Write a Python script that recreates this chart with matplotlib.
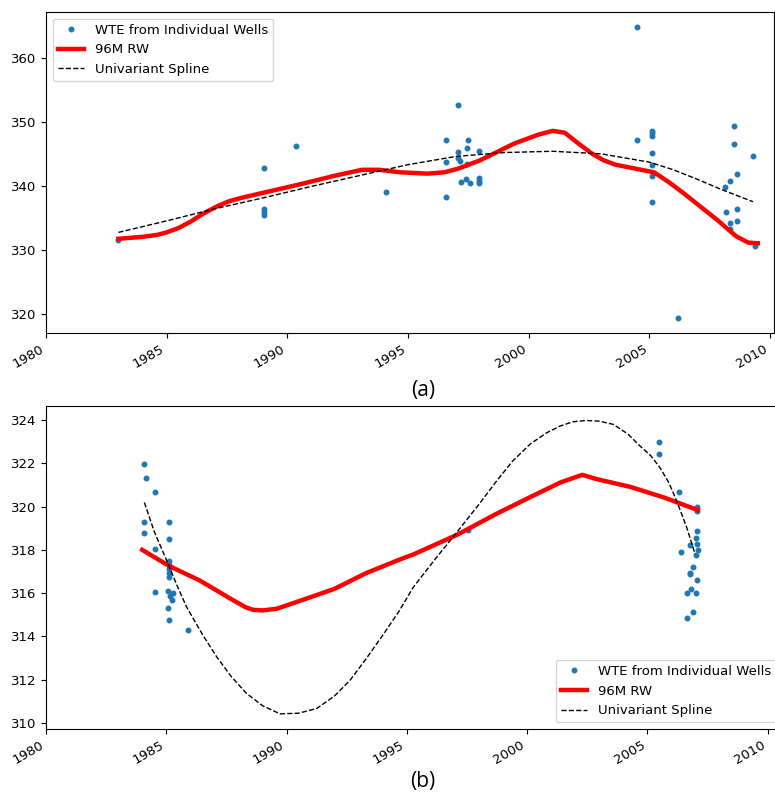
import matplotlib
matplotlib.use("Agg")
import matplotlib.pyplot as plt
from matplotlib.ticker import MultipleLocator, FormatStrFormatter

# ---------------- Panel (a) data ----------------
a_well_year = [1983.0, 1989.04, 1989.04, 1989.04, 1989.04, 1990.35, 1994.1,
               1996.56, 1996.56, 1996.56, 1997.08, 1997.08, 1997.08, 1997.15,
               1997.19, 1997.4, 1997.45, 1997.45, 1997.5, 1997.57,
               1997.95, 1997.95, 1997.95, 1997.95,
               2004.49, 2004.49,
               2005.1, 2005.1, 2005.1, 2005.1, 2005.1, 2005.1, 2005.1,
               2006.2, 2008.14, 2008.18, 2008.35, 2008.35, 2008.35,
               2008.5, 2008.5, 2008.62, 2008.62, 2008.62, 2009.28, 2009.38]
a_well_wte = [331.5, 342.8, 336.4, 335.9, 335.5, 346.3, 339.1,
              347.1, 343.7, 338.3, 352.7, 345.3, 344.3, 343.9,
              340.6, 341.0, 345.9, 343.4, 347.1, 340.4,
              345.5, 341.2, 340.8, 340.5,
              364.8, 347.2,
              348.5, 348.2, 347.8, 345.1, 343.3, 341.6, 337.4,
              319.3, 339.8, 335.9, 340.8, 334.1, 333.2,
              349.3, 346.6, 341.9, 336.3, 334.5, 344.7, 330.5]

a_rw_year = [1983.0, 1984.0, 1984.6, 1985.0, 1985.5, 1986.0, 1986.5, 1987.1,
             1987.6, 1988.2, 1989.0, 1990.5, 1992.0, 1993.1, 1993.8, 1994.7,
             1995.8, 1996.5, 1997.1, 1998.0, 1999.4, 2000.4, 2001.0, 2001.5,
             2002.0, 2002.6, 2003.1, 2003.6, 2004.4, 2005.2, 2005.8, 2006.4,
             2007.8, 2008.6, 2009.1, 2009.5]
a_rw_wte = [331.7, 332.0, 332.3, 332.7, 333.4, 334.4, 335.6, 336.8,
            337.6, 338.2, 338.9, 340.2, 341.6, 342.5, 342.5, 342.1,
            341.9, 342.1, 342.7, 344.0, 346.6, 348.0, 348.6, 348.3,
            346.8, 345.1, 344.0, 343.3, 342.7, 342.1, 340.6, 338.9,
            334.7, 332.1, 331.1, 331.0]

a_sp_year = [1983.0, 1985.0, 1987.0, 1989.0, 1991.0, 1993.0, 1995.0, 1997.0,
             1999.0, 2001.0, 2003.0, 2005.0, 2006.0, 2007.0, 2008.0, 2009.3]
a_sp_wte = [332.7, 334.5, 336.4, 338.1, 339.9, 341.6, 343.3, 344.6,
            345.2, 345.4, 345.0, 343.7, 342.5, 341.0, 339.4, 337.5]

# ---------------- Panel (b) data ----------------
b_well_year = [1984.07, 1984.07, 1984.07, 1984.14, 1984.52, 1984.52, 1984.52,
               1985.13, 1985.13, 1985.13, 1985.13, 1985.13, 1985.13, 1985.13,
               1985.13, 1985.09, 1985.29, 1985.16, 1985.25, 1985.06, 1985.92,
               1997.56, 2005.49, 2005.49, 2006.32,
               2007.08, 2007.08, 2007.08, 2007.08, 2007.03, 2007.03, 2007.03,
               2007.05, 2007.11, 2006.78, 2006.78, 2006.41, 2006.91, 2006.91,
               2006.76, 2006.81, 2006.64, 2006.64]
b_well_wte = [321.96, 319.30, 318.79, 321.34, 320.68, 318.02, 316.04,
              319.30, 318.50, 317.50, 317.30, 317.12, 316.92, 316.73,
              314.77, 316.12, 316.01, 315.86, 315.69, 315.32, 314.29,
              318.92, 323.0, 322.45, 320.68,
              320.0, 319.81, 318.85, 316.61, 318.55, 317.78, 316.0,
              318.27, 318.0, 318.24, 316.94, 317.88, 317.23, 315.15,
              316.87, 316.2, 316.0, 314.84]

b_rw_year = [1984.0, 1985.13, 1986.4, 1987.8, 1988.3, 1988.6, 1989.0, 1989.6,
             1990.6, 1992.0, 1993.3, 1994.7, 1995.3, 1997.1, 1998.7, 2000.1,
             2001.4, 2002.3, 2002.9, 2004.3, 2005.7, 2007.1]
b_rw_wte = [318.0, 317.25, 316.58, 315.66, 315.35, 315.23, 315.2, 315.28,
            315.66, 316.2, 316.92, 317.55, 317.8, 318.7, 319.65, 320.42,
            321.12, 321.47, 321.27, 320.91, 320.42, 319.84]

b_sp_year = [1984.09, 1984.5, 1985.02, 1985.45, 1985.85, 1986.5, 1987.1,
             1987.7, 1988.34, 1989.0, 1989.73, 1990.5, 1991.26, 1992.0,
             1992.64, 1993.3, 1994.0, 1994.7, 1995.27, 1996.2, 1997.08,
             1998.0, 1998.74, 1999.4, 2000.12, 2000.8, 2001.37, 2001.9,
             2002.45, 2003.0, 2003.59, 2004.2, 2004.7, 2005.15, 2005.53,
             2005.9, 2006.22, 2006.64, 2006.99]
b_sp_wte = [320.19, 318.85, 317.5, 316.35, 315.35, 314.1, 313.05,
            312.15, 311.36, 310.8, 310.42, 310.45, 310.67, 311.25,
            311.97, 312.95, 314.05, 315.2, 316.27, 317.6, 318.81,
            320.1, 321.19, 322.1, 322.88, 323.4, 323.72, 323.92,
            323.98, 323.95, 323.8, 323.35, 322.8, 322.35, 321.8,
            321.1, 320.27, 319.04, 317.8]

labels = ["WTE from Individual Wells", "96M RW", "Univariant Spline"]

FS = 9.5
plt.rcParams['font.family'] = ['DejaVu Sans']

W, H = 775, 796
fig = plt.figure(figsize=(W / 100, H / 100), dpi=100)


def make_axes(left_px, top_px, right_px, bottom_px):
    return fig.add_axes([left_px / W, (H - bottom_px) / H,
                         (right_px - left_px) / W, (bottom_px - top_px) / H])


def style(ax, xmax, ylim, ystep):
    ax.set_xlim(1980, xmax)
    ax.set_ylim(*ylim)
    ax.xaxis.set_major_locator(MultipleLocator(5))
    ax.xaxis.set_major_formatter(FormatStrFormatter('%d'))
    ax.yaxis.set_major_locator(MultipleLocator(ystep))
    ax.tick_params(labelsize=FS)
    for lab in ax.get_xticklabels():
        lab.set_rotation(30)
        lab.set_ha('right')


ax1 = make_axes(46, 12, 774, 333)
ax1.plot(a_well_year, a_well_wte, '.', color='#1f77b4', ms=6.5, label=labels[0])
ax1.plot(a_rw_year, a_rw_wte, '-', color='red', lw=3.2, label=labels[1])
ax1.plot(a_sp_year, a_sp_wte, '--', color='black', lw=1, label=labels[2])
style(ax1, 2010.17, (316.95, 367.2), 10)
ax1.legend(loc='upper left', fontsize=FS)

ax2 = make_axes(46, 406, 783, 729)
ax2.plot(b_well_year, b_well_wte, '.', color='#1f77b4', ms=6.5, label=labels[0])
ax2.plot(b_rw_year, b_rw_wte, '-', color='red', lw=3.2, label=labels[1])
ax2.plot(b_sp_year, b_sp_wte, '--', color='black', lw=1, label=labels[2])
style(ax2, 1980 + (783 - 46) / 24.05, (309.72, 324.65), 2)
ax2.legend(loc='lower right', fontsize=FS)

fig.text(423 / W, 1 - 391 / H, "(a)", ha='center', va='center',
         fontsize=15, family=['Open Sans', 'DejaVu Sans'])
fig.text(423 / W, 1 - 781 / H, "(b)", ha='center', va='center',
         fontsize=15, family=['Open Sans', 'DejaVu Sans'])

fig.savefig("out.png", dpi=100)
